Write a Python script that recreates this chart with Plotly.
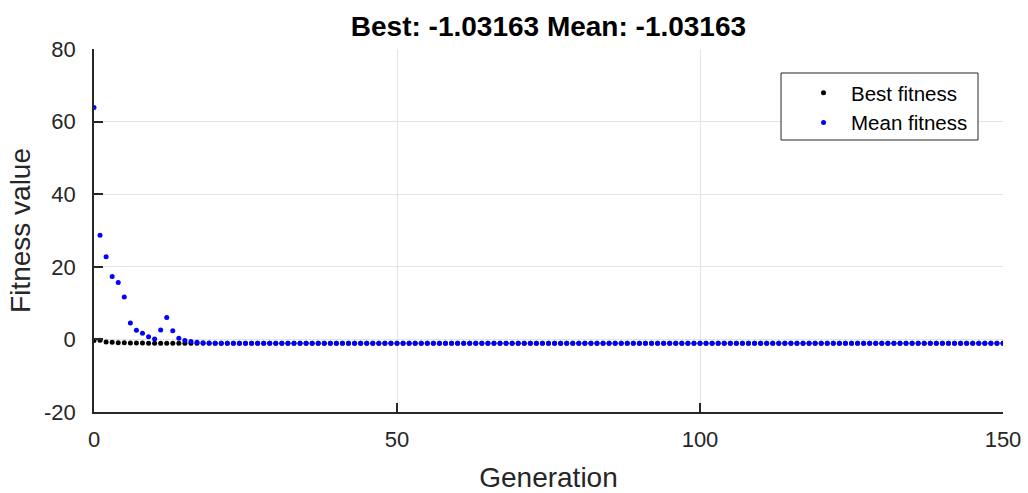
import plotly.graph_objects as go

generations = list(range(0, 151))

best_fitness = [
    -0.3, -0.2, -0.7, -0.8, -0.9, -0.95, -1.0, -1.0, -1.02, -1.03,
    -1.03163, -1.03163, -1.03163, -1.03163, -1.03163, -1.03163, -1.03163, -1.03163, -1.03163, -1.03163,
    -1.03163, -1.03163, -1.03163, -1.03163, -1.03163, -1.03163, -1.03163, -1.03163, -1.03163, -1.03163,
    -1.03163, -1.03163, -1.03163, -1.03163, -1.03163, -1.03163, -1.03163, -1.03163, -1.03163, -1.03163,
    -1.03163, -1.03163, -1.03163, -1.03163, -1.03163, -1.03163, -1.03163, -1.03163, -1.03163, -1.03163,
    -1.03163, -1.03163, -1.03163, -1.03163, -1.03163, -1.03163, -1.03163, -1.03163, -1.03163, -1.03163,
    -1.03163, -1.03163, -1.03163, -1.03163, -1.03163, -1.03163, -1.03163, -1.03163, -1.03163, -1.03163,
    -1.03163, -1.03163, -1.03163, -1.03163, -1.03163, -1.03163, -1.03163, -1.03163, -1.03163, -1.03163,
    -1.03163, -1.03163, -1.03163, -1.03163, -1.03163, -1.03163, -1.03163, -1.03163, -1.03163, -1.03163,
    -1.03163, -1.03163, -1.03163, -1.03163, -1.03163, -1.03163, -1.03163, -1.03163, -1.03163, -1.03163,
    -1.03163, -1.03163, -1.03163, -1.03163, -1.03163, -1.03163, -1.03163, -1.03163, -1.03163, -1.03163,
    -1.03163, -1.03163, -1.03163, -1.03163, -1.03163, -1.03163, -1.03163, -1.03163, -1.03163, -1.03163,
    -1.03163, -1.03163, -1.03163, -1.03163, -1.03163, -1.03163, -1.03163, -1.03163, -1.03163, -1.03163,
    -1.03163, -1.03163, -1.03163, -1.03163, -1.03163, -1.03163, -1.03163, -1.03163, -1.03163, -1.03163,
    -1.03163, -1.03163, -1.03163, -1.03163, -1.03163, -1.03163, -1.03163, -1.03163, -1.03163, -1.03163,
    -1.03163,
]

mean_fitness = [
    63.9, 28.7, 22.8, 17.3, 15.7, 11.7, 4.5, 2.5, 1.7, 0.7,
    0.1, 2.6, 6.0, 2.4, 0.3, -0.3, -0.6, -0.8, -0.9, -1.0,
    -1.03163, -1.03163, -1.03163, -1.03163, -1.03163, -1.03163, -1.03163, -1.03163, -1.03163, -1.03163,
    -1.03163, -1.03163, -1.03163, -1.03163, -1.03163, -1.03163, -1.03163, -1.03163, -1.03163, -1.03163,
    -1.03163, -1.03163, -1.03163, -1.03163, -1.03163, -1.03163, -1.03163, -1.03163, -1.03163, -1.03163,
    -1.03163, -1.03163, -1.03163, -1.03163, -1.03163, -1.03163, -1.03163, -1.03163, -1.03163, -1.03163,
    -1.03163, -1.03163, -1.03163, -1.03163, -1.03163, -1.03163, -1.03163, -1.03163, -1.03163, -1.03163,
    -1.03163, -1.03163, -1.03163, -1.03163, -1.03163, -1.03163, -1.03163, -1.03163, -1.03163, -1.03163,
    -1.03163, -1.03163, -1.03163, -1.03163, -1.03163, -1.03163, -1.03163, -1.03163, -1.03163, -1.03163,
    -1.03163, -1.03163, -1.03163, -1.03163, -1.03163, -1.03163, -1.03163, -1.03163, -1.03163, -1.03163,
    -1.03163, -1.03163, -1.03163, -1.03163, -1.03163, -1.03163, -1.03163, -1.03163, -1.03163, -1.03163,
    -1.03163, -1.03163, -1.03163, -1.03163, -1.03163, -1.03163, -1.03163, -1.03163, -1.03163, -1.03163,
    -1.03163, -1.03163, -1.03163, -1.03163, -1.03163, -1.03163, -1.03163, -1.03163, -1.03163, -1.03163,
    -1.03163, -1.03163, -1.03163, -1.03163, -1.03163, -1.03163, -1.03163, -1.03163, -1.03163, -1.03163,
    -1.03163, -1.03163, -1.03163, -1.03163, -1.03163, -1.03163, -1.03163, -1.03163, -1.03163, -1.03163,
    -1.03163,
]

x_ticks = [0, 50, 100, 150]
y_ticks = [-20, 0, 20, 40, 60, 80]
title_text = "Best: -1.03163 Mean: -1.03163"

FONT = "Liberation Sans, Arial, sans-serif"
TXT = "#262626"

fig = go.Figure()
fig.add_trace(go.Scatter(
    x=generations, y=best_fitness, mode="markers", name="Best fitness",
    marker=dict(color="black", size=5),
))
fig.add_trace(go.Scatter(
    x=generations, y=mean_fitness, mode="markers", name="Mean fitness",
    marker=dict(color="#0000ff", size=5),
))

# legend frame (drawn as a shape so its padding matches the reference)
fig.add_shape(type="rect", xref="paper", yref="paper",
              x0=0.7558, x1=0.9725, y0=0.7493, y1=0.9339,
              line=dict(color="#262626", width=1), fillcolor="white",
              layer="above")

fig.update_layout(
    width=1028, height=493,
    margin=dict(l=94, r=25, t=49, b=81, autoexpand=False),
    paper_bgcolor="white", plot_bgcolor="white",
    font=dict(family=FONT, color=TXT, size=20),
    title=dict(text="<b>" + title_text + "</b>", x=0.5335, xanchor="center",
               y=0.947, yanchor="middle", automargin=False,
               font=dict(family=FONT, size=28, color="black")),
    showlegend=True,
    legend=dict(x=0.7723, y=0.934, xanchor="left", yanchor="top",
                bgcolor="rgba(0,0,0,0)", borderwidth=0,
                font=dict(family=FONT, size=20.5, color="black"),
                itemwidth=45, tracegroupgap=2),
)

fig.update_xaxes(
    range=[0, 150], tickvals=x_ticks, ticktext=[str(v) for v in x_ticks],
    showgrid=True, gridcolor="#e3e3e3", gridwidth=1,
    showline=True, linecolor="#262626", linewidth=1.5,
    ticks="inside", ticklen=9, tickcolor="#262626", tickwidth=1.8,
    zeroline=False, mirror=False, automargin=False,
    tickfont=dict(size=22, color=TXT), ticklabelstandoff=7,
    title=dict(text="Generation", font=dict(size=28, color=TXT), standoff=18),
)
fig.update_yaxes(
    range=[-20, 80], tickvals=y_ticks, ticktext=[str(v) for v in y_ticks],
    showgrid=True, gridcolor="#e3e3e3", gridwidth=1,
    showline=True, linecolor="#262626", linewidth=1.5,
    ticks="inside", ticklen=9, tickcolor="#262626", tickwidth=1.8,
    zeroline=False, mirror=False, automargin=False,
    tickfont=dict(size=22, color=TXT), ticklabelstandoff=12,
    title=dict(text="Fitness value", font=dict(size=28, color=TXT), standoff=5),
)

fig.write_html("out.html", config={"displayModeBar": False},
               post_script="document.body.style.margin='0';")
